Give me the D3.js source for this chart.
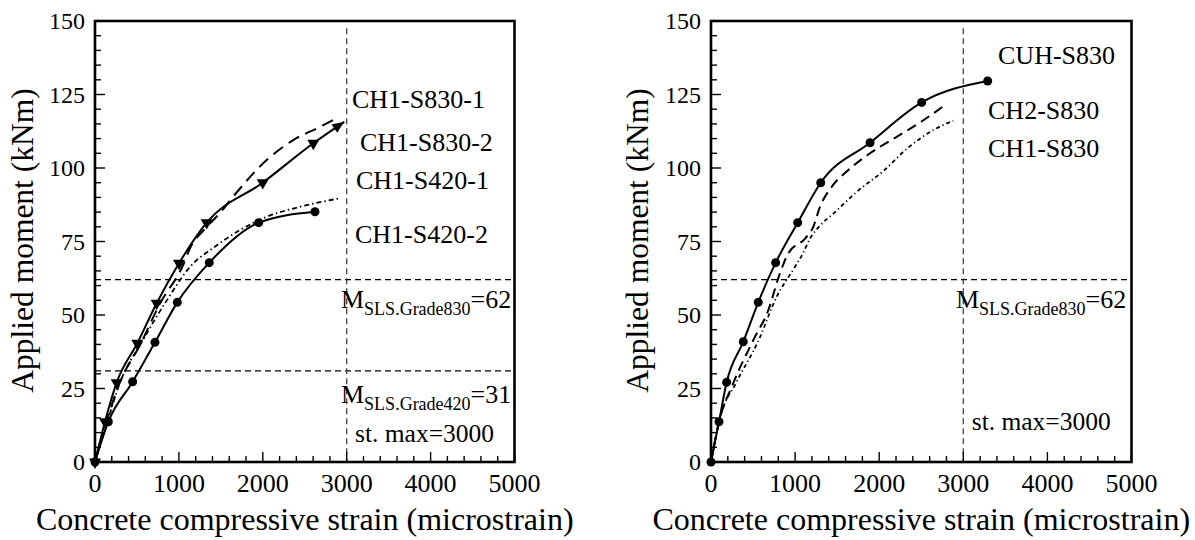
<!DOCTYPE html>
<html>
<head>
<meta charset="utf-8">
<script src="https://cdn.jsdelivr.net/npm/d3@7"></script>
<style>
  html, body { margin: 0; padding: 0; background: #fff; }
  svg { display: block; font-family: "Liberation Serif", "Times New Roman", serif; }
</style>
</head>
<body>
<svg id="chart" width="1195" height="540"></svg>
<script>
// Axis ticks
const strainTicks = [0, 1000, 2000, 3000, 4000, 5000];
const momentTicks = [0, 25, 50, 75, 100, 125, 150];

// Serviceability moments and strain limit
const mSLS830 = 62;
const mSLS420 = 31;
const strainMax = 3000;

// Left panel: CH1 specimens
const ch1S830_1_strain = [0, 130, 280, 540, 777, 1050, 1132, 1300, 1490, 1645, 2046, 2362, 2682, 2900];
const ch1S830_1_moment = [0, 13, 26, 40, 54, 67, 72.7, 79, 84.7, 90.2, 102.7, 109.5, 114, 117.3];

const ch1S830_2_strain = [0, 119, 258, 504, 735, 1001, 1331, 1999, 2602, 2971];
const ch1S830_2_moment = [0, 13.7, 27, 40.4, 54, 67.6, 81.4, 95, 108.4, 115.7];

const ch1S420_1_strain = [0, 130, 298, 556, 834, 1152, 1408, 1728, 2046, 2443, 2920];
const ch1S420_1_moment = [0, 12, 27, 40.7, 54, 67, 72.8, 78.9, 83.4, 86.8, 89.7];

const ch1S420_2_strain = [0, 159, 449, 715, 981, 1362, 1951, 2622];
const ch1S420_2_moment = [0, 13.7, 27.3, 40.7, 54.3, 67.8, 81.4, 85.1];

// Right panel: Grade 830 specimens
const cuhS830_strain = [0, 95, 186, 384, 562, 769, 1031, 1305, 1891, 2505, 3290];
const cuhS830_moment = [0, 13.7, 27.1, 40.9, 54.3, 67.8, 81.4, 95, 108.6, 122.3, 129.6];

const ch2S830_strain = [0, 90, 265, 504, 682, 820, 919, 1121, 1216, 1296, 1435, 1633, 1891, 2208, 2497, 2802];
const ch2S830_moment = [0, 13, 26.8, 41.5, 51.7, 64.2, 71, 76.1, 80, 86.8, 93.6, 99.3, 105, 110.6, 115.7, 121.8];

const ch1S830_strain = [0, 107, 300, 560, 781, 999, 1094, 1177, 1300, 1455, 1733, 2050, 2327, 2643, 2881];
const ch1S830_moment = [0, 15, 27, 41, 56.2, 66.4, 71, 76, 80.5, 84.5, 91.9, 99, 106.5, 112.9, 116.1];

// Text labels
const leftLabels = [
  { text: "CH1-S830-1", x: 3063, y: 120.4 },
  { text: "CH1-S830-2", x: 3158, y: 105.8 },
  { text: "CH1-S420-1", x: 3111, y: 92.8 },
  { text: "CH1-S420-2", x: 3099, y: 74.4 }
];
const rightLabels = [
  { text: "CUH-S830", x: 3413, y: 135.4 },
  { text: "CH2-S830", x: 3294, y: 116.6 },
  { text: "CH1-S830", x: 3294, y: 103.6 }
];

const zip = (xs, ys) => xs.map((x, i) => ({ x, y: ys[i] }));

const svg = d3.select("#chart");

function drawPanel(opt) {
  const x = d3.scaleLinear().domain([0, 5000]).range([opt.x0, opt.x1]);
  const y = d3.scaleLinear().domain([0, 150]).range([462, 21]);
  const g = svg.append("g");

  // Reference lines
  opt.hLines.forEach(v => {
    g.append("line")
      .attr("x1", x(0)).attr("x2", x(5000))
      .attr("y1", y(v)).attr("y2", y(v))
      .attr("stroke", "#000").attr("stroke-width", 1.2)
      .attr("stroke-dasharray", "6,4");
  });
  g.append("line")
    .attr("x1", x(strainMax)).attr("x2", x(strainMax))
    .attr("y1", y(147.5)).attr("y2", y(0))
    .attr("stroke", "#444").attr("stroke-width", 1.3)
    .attr("stroke-dasharray", "6,4");

  // Minor/major ticks pointing inward
  const minorX = d3.range(0, 5001, 200);
  const minorY = d3.range(0, 151, 5);
  minorX.forEach(v => {
    const major = v % 1000 === 0;
    g.append("line")
      .attr("x1", x(v)).attr("x2", x(v))
      .attr("y1", y(0)).attr("y2", y(0) - (major ? 10 : 6))
      .attr("stroke", "#000").attr("stroke-width", 1.4);
  });
  minorY.forEach(v => {
    const major = v % 25 === 0;
    g.append("line")
      .attr("x1", x(0)).attr("x2", x(0) + (major ? 10 : 6))
      .attr("y1", y(v)).attr("y2", y(v))
      .attr("stroke", "#000").attr("stroke-width", 1.4);
  });

  // Frame
  g.append("rect")
    .attr("x", x(0)).attr("y", y(150))
    .attr("width", x(5000) - x(0)).attr("height", y(0) - y(150))
    .attr("fill", "none").attr("stroke", "#000").attr("stroke-width", 2.6);

  // Tick labels
  g.selectAll(".xt").data(strainTicks).enter().append("text")
    .attr("x", d => x(d)).attr("y", 492)
    .attr("text-anchor", "middle").attr("font-size", 26)
    .text(d => d);
  g.selectAll(".yt").data(momentTicks).enter().append("text")
    .attr("x", x(0) - 10).attr("y", d => y(d) + 8)
    .attr("text-anchor", "end").attr("font-size", 24)
    .text(d => d);

  // Axis titles
  g.append("text")
    .attr("x", (opt.x0 + opt.x1) / 2).attr("y", 530)
    .attr("text-anchor", "middle").attr("font-size", 32)
    .text("Concrete compressive strain (microstrain)");
  g.append("text")
    .attr("transform", `translate(${opt.yTitleX},240.5) rotate(-90)`)
    .attr("text-anchor", "middle").attr("font-size", 31.5)
    .text("Applied moment (kNm)");

  const line = d3.line().x(d => x(d.x)).y(d => y(d.y)).curve(d3.curveMonotoneX);

  opt.series.forEach(s => {
    const pts = zip(s.strain, s.moment);
    g.append("path").datum(pts)
      .attr("d", line)
      .attr("fill", "none").attr("stroke", "#000")
      .attr("stroke-width", s.width)
      .attr("stroke-dasharray", s.dash || null);
    if (s.marker === "circle") {
      g.selectAll(null).data(pts).enter().append("circle")
        .attr("cx", d => x(d.x)).attr("cy", d => y(d.y)).attr("r", 4.5)
        .attr("fill", "#000");
    }
    if (s.marker === "triangle") {
      const body = pts.slice(0, -1);
      g.selectAll(null).data(body).enter().append("path")
        .attr("d", d3.symbol().type(d3.symbolTriangle).size(62))
        .attr("transform", d => `translate(${x(d.x)},${y(d.y)}) rotate(180)`)
        .attr("fill", "#000");
      // arrowhead on the last point
      const a = pts[pts.length - 2], b = pts[pts.length - 1];
      const ang = Math.atan2(y(b.y) - y(a.y), x(b.x) - x(a.x)) * 180 / Math.PI;
      g.append("path")
        .attr("d", "M0,0 L-12,-5 L-12,5 Z")
        .attr("transform", `translate(${x(b.x)},${y(b.y)}) rotate(${ang})`)
        .attr("fill", "#000");
    }
  });

  // Curve labels
  opt.labels.forEach(l => {
    g.append("text")
      .attr("x", x(l.x)).attr("y", y(l.y))
      .attr("font-size", 26)
      .text(l.text);
  });

  // Serviceability labels
  opt.mLabels.forEach(m => {
    const t = g.append("text").attr("x", x(m.x)).attr("y", y(m.y)).attr("font-size", 26);
    t.append("tspan").text("M");
    t.append("tspan").attr("font-size", 18).attr("dy", 7).text(m.sub);
    t.append("tspan").attr("dy", -7).text("=" + m.val);
  });

  g.append("text")
    .attr("x", x(opt.stPos.x)).attr("y", y(opt.stPos.y))
    .attr("font-size", 25.5)
    .text("st. max=" + strainMax);
}

drawPanel({
  x0: 95, x1: 514.5,
  yTitleX: 33,
  hLines: [mSLS830, mSLS420],
  series: [
    { strain: ch1S830_1_strain, moment: ch1S830_1_moment, width: 2, dash: "12,7" },
    { strain: ch1S420_1_strain, moment: ch1S420_1_moment, width: 1.8, dash: "5,3,1.5,3" },
    { strain: ch1S420_2_strain, moment: ch1S420_2_moment, width: 2, marker: "circle" },
    { strain: ch1S830_2_strain, moment: ch1S830_2_moment, width: 2, marker: "triangle" }
  ],
  labels: leftLabels,
  mLabels: [
    { x: 2932, y: 52.3, sub: "SLS.Grade830", val: mSLS830 },
    { x: 2932, y: 20, sub: "SLS.Grade420", val: mSLS420 }
  ],
  stPos: { x: 3099, y: 6.9 }
});

drawPanel({
  x0: 711, x1: 1131.5,
  yTitleX: 648,
  hLines: [mSLS830],
  series: [
    { strain: ch2S830_strain, moment: ch2S830_moment, width: 2, dash: "10,6" },
    { strain: ch1S830_strain, moment: ch1S830_moment, width: 1.8, dash: "4,3,1.2,3" },
    { strain: cuhS830_strain, moment: cuhS830_moment, width: 2, marker: "circle" }
  ],
  labels: rightLabels,
  mLabels: [
    { x: 2913, y: 52.3, sub: "SLS.Grade830", val: mSLS830 }
  ],
  stPos: { x: 3100, y: 10.9 }
});
</script>
</body>
</html>
